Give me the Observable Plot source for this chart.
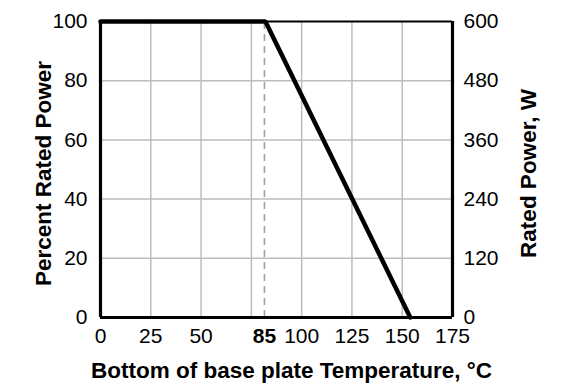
<!DOCTYPE html>
<html>
<head>
<meta charset="utf-8">
<script src="https://cdn.jsdelivr.net/npm/d3@7"></script>
<script src="https://cdn.jsdelivr.net/npm/@observablehq/plot@0.6"></script>
<style>
  html, body { margin: 0; padding: 0; background: #fff; }
</style>
</head>
<body>
<div id="chart"></div>
<script>
// Derating curve: temperature (°C) vs percent rated power
const temperature = [0, 82, 154];
const percentPower = [100, 100, 0];
const kneeTemp = 81.5;        // where the dashed marker sits in the picture
const kneeLabel = "85";
const xTicks = [0, 25, 50, 100, 125, 150, 175];
const xGrid = [25, 50, 75, 100, 125, 150];
const yTicks = [0, 20, 40, 60, 80, 100];
const yGrid = [20, 40, 60, 80];
const ratedWatts = 600;       // 100 % = 600 W

const data = temperature.map((t, i) => ({t, p: percentPower[i]}));
const font = "Arial, 'Liberation Sans', Helvetica, sans-serif";

const chart = Plot.plot({
  width: 579,
  height: 390,
  marginLeft: 100,
  marginRight: 127,
  marginTop: 21,
  marginBottom: 73,
  style: {fontFamily: font, fontSize: "21px", color: "#000", background: "#fff"},
  x: {domain: [0, 175]},
  y: {domain: [0, 100]},
  marks: [
    Plot.ruleX(xGrid, {stroke: "#bdbdbd", strokeWidth: 1.5}),
    Plot.ruleY(yGrid, {stroke: "#bdbdbd", strokeWidth: 1.5}),
    Plot.ruleX([kneeTemp], {y1: 0, y2: 100, stroke: "#a0a0a0", strokeWidth: 1.6, strokeDasharray: "7,5"}),
    Plot.ruleY([100], {stroke: "#000", strokeWidth: 2}),
    Plot.ruleY([0], {stroke: "#000", strokeWidth: 3.2}),
    Plot.ruleX([0, 175], {stroke: "#000", strokeWidth: 3.2}),
    Plot.line(data, {x: "t", y: "p", stroke: "#000", strokeWidth: 4.5, strokeLinejoin: "miter"}),
    Plot.axisX({ticks: xTicks, tickSize: 0, tickPadding: 11, fontSize: 21, label: null}),
    Plot.axisX({ticks: [kneeTemp], tickSize: 0, tickPadding: 11, fontSize: 21, fontWeight: "bold", tickFormat: () => kneeLabel, label: null}),
    Plot.axisY({ticks: yTicks, tickSize: 0, tickPadding: 13, fontSize: 21, anchor: "left", label: null}),
    Plot.axisY({ticks: yTicks, tickSize: 0, tickPadding: 11, fontSize: 21, anchor: "right", tickFormat: d => String(d * ratedWatts / 100), label: null}),
    Plot.text(["Bottom of base plate Temperature, °C"], {frameAnchor: "bottom", dx: 15, dy: 53, fontSize: 22.5, fontWeight: "bold", lineAnchor: "middle", textAnchor: "middle"}),
    Plot.text(["Percent Rated Power"], {frameAnchor: "left", dx: -57, dy: 4, rotate: -90, fontSize: 22.5, fontWeight: "bold", lineAnchor: "middle", textAnchor: "middle"}),
    Plot.text(["Rated Power, W"], {frameAnchor: "right", dx: 76, dy: 4, rotate: -90, fontSize: 22.5, fontWeight: "bold", lineAnchor: "middle", textAnchor: "middle"})
  ]
});
document.getElementById("chart").appendChild(chart);
</script>
</body>
</html>
